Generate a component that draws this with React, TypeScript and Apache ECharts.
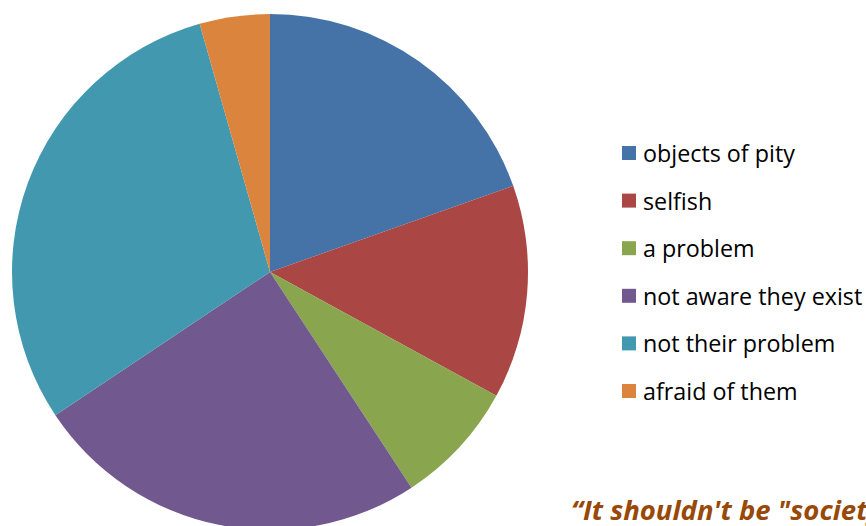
import React, { useEffect, useRef } from "react";
import * as echarts from "echarts";

const categories = [
  "objects of pity",
  "selfish",
  "a problem",
  "not aware they exist",
  "not their problem",
  "afraid of them",
];
const values = [19.6, 13.4, 7.8, 24.9, 30.0, 4.4];
const colors = ["#4572A7", "#AA4643", "#89A54E", "#71588F", "#4198AF", "#DB843D"];
const quote = "\u201CIt shouldn't be \"society\"";

export default function App() {
  const ref = useRef<HTMLDivElement>(null);
  useEffect(() => {
    if (!ref.current) return;
    const chart = echarts.init(ref.current, undefined, { renderer: "svg" });
    chart.setOption({
      animation: false,
      backgroundColor: "#ffffff",
      color: colors,
      legend: {
        orient: "vertical",
        left: 617,
        top: 136,
        itemWidth: 14,
        itemHeight: 14,
        itemGap: 23.6,
        icon: "rect",
        textStyle: {
          fontFamily: "'Open Sans', 'Noto Sans', sans-serif",
          fontSize: 23.3,
          lineHeight: 24,
          color: "#000000",
          padding: [0, 0, 0, 2],
        },
        data: categories,
      },
      graphic: [
        {
          type: "text",
          left: 571,
          top: 496,
          style: {
            text: quote,
            fontFamily: "'Open Sans', 'Noto Sans', sans-serif",
            fontSize: 27.5,
            fontWeight: "bold",
            fontStyle: "italic",
            fill: "#984807",
          },
        },
      ],
      series: [
        {
          type: "pie",
          center: [270, 272],
          radius: 258,
          startAngle: 90,
          clockwise: true,
          label: { show: false },
          labelLine: { show: false },
          emphasis: { disabled: true },
          itemStyle: { borderWidth: 0 },
          data: categories.map((name, i) => ({ name, value: values[i] })),
        },
      ],
    });
    return () => chart.dispose();
  }, []);
  return (
    <div
      ref={ref}
      style={{ position: "fixed", left: 0, top: 0, width: 866, height: 526 }}
    />
  );
}
